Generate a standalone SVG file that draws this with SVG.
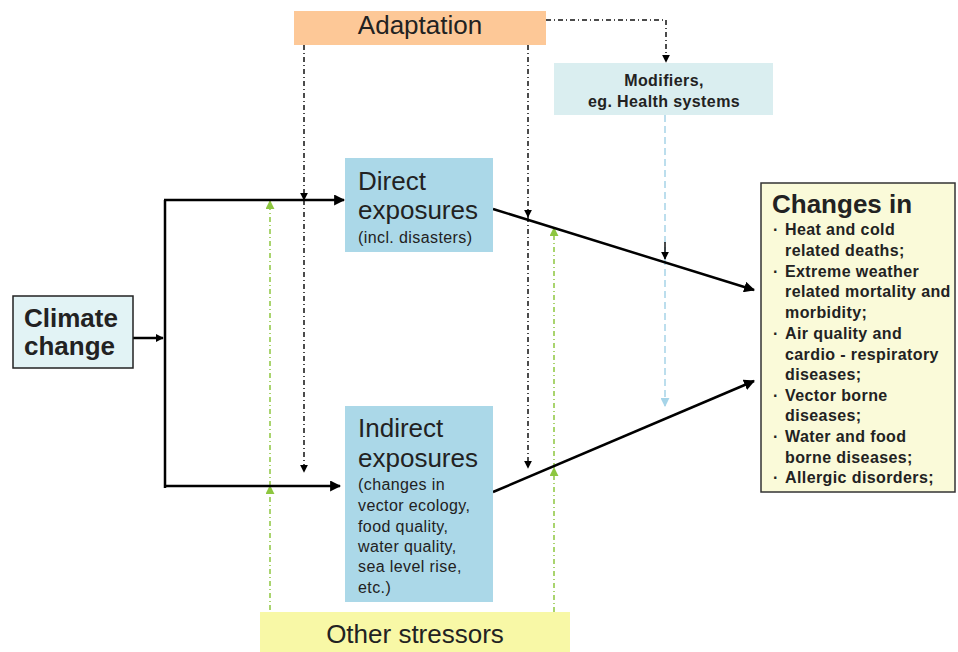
<svg xmlns="http://www.w3.org/2000/svg" width="958" height="652" viewBox="0 0 958 652">
<defs>
<marker id="ab" viewBox="0 0 10 10" refX="9" refY="5" markerWidth="8" markerHeight="8" markerUnits="userSpaceOnUse" orient="auto"><path d="M0,0 L10,5 L0,10 z" fill="#000"/></marker>
<marker id="abig" viewBox="0 0 10 10" refX="9" refY="5" markerWidth="11" markerHeight="11" markerUnits="userSpaceOnUse" orient="auto"><path d="M0,0 L10,5 L0,10 z" fill="#000"/></marker>
<marker id="ag" viewBox="0 0 10 10" refX="9" refY="5" markerWidth="9" markerHeight="9" markerUnits="userSpaceOnUse" orient="auto"><path d="M0,0 L10,5 L0,10 z" fill="#8DC63F"/></marker>
<marker id="al" viewBox="0 0 10 10" refX="9" refY="5" markerWidth="9" markerHeight="9" markerUnits="userSpaceOnUse" orient="auto"><path d="M0,0 L10,5 L0,10 z" fill="#A6D4E8"/></marker>
</defs>
<style>
text{font-family:"Liberation Sans",Arial,sans-serif;fill:#222}
.big{font-size:26px}
.sm{font-size:16px;letter-spacing:0.4px}
.b{font-weight:bold}
.solid{stroke:#000;stroke-width:2.5;fill:none}
.dd{stroke:#111;stroke-width:1.5;fill:none;stroke-dasharray:5,3,1,3}
.gd{stroke:#8DC63F;stroke-width:1.5;fill:none;stroke-dasharray:5,3,1,3}
.ld{stroke:#A6D4E8;stroke-width:1.5;fill:none;stroke-dasharray:7,4}
</style>
<g id="connectors">
<path class="dd" d="M546,20 H666 V62" marker-end="url(#ab)"/>
<path class="dd" d="M304,45 V200" marker-end="url(#ab)"/>
<path class="dd" d="M304,200 V472" marker-end="url(#ab)"/>
<path class="dd" d="M528,45 V217" marker-end="url(#ab)"/>
<path class="dd" d="M528,217 V468" marker-end="url(#ab)"/>
<path class="gd" d="M270,610 V486" marker-end="url(#ag)"/>
<path class="gd" d="M270,486 V201" marker-end="url(#ag)"/>
<path class="gd" d="M554,612 V468" marker-end="url(#ag)"/>
<path class="gd" d="M554,468 V228" marker-end="url(#ag)"/>
<path class="ld" d="M665,115 V406" marker-end="url(#al)"/>
<path d="M665,242 V259" stroke="#111" stroke-width="1.5" marker-end="url(#ab)"/>
<path class="solid" d="M133,338 H163" marker-end="url(#ab)"/>
<path class="solid" d="M165,200 V488"/>
<path class="solid" d="M164,200 H344" marker-end="url(#abig)"/>
<path class="solid" d="M164,486 H340" marker-end="url(#abig)"/>
<path class="solid" d="M493,209 L754,290" marker-end="url(#abig)"/>
<path class="solid" d="M493,492 L754,381" marker-end="url(#abig)"/>
</g>
<g id="adaptation">
<rect x="294" y="11" width="252" height="34" fill="#FDC897"/>
<text class="big" x="420" y="34" text-anchor="middle">Adaptation</text>
</g>
<g id="modifiers">
<rect x="554" y="63" width="219" height="52" fill="#DAEEF0"/>
<text class="sm b" x="664" y="86" text-anchor="middle">Modifiers,</text>
<text class="sm b" x="664" y="107" text-anchor="middle">eg. Health systems</text>
</g>
<g id="climate">
<rect x="13" y="296" width="120" height="72" fill="#E2F3F5" stroke="#222" stroke-width="1.5"/>
<text class="big b" x="24" y="327">Climate</text>
<text class="big b" x="24" y="355">change</text>
</g>
<g id="direct">
<rect x="345" y="158" width="148" height="94" fill="#ABD8E8"/>
<text class="big" x="358" y="190">Direct</text>
<text class="big" x="358" y="219">exposures</text>
<text class="sm" x="358" y="243">(incl. disasters)</text>
</g>
<g id="indirect">
<rect x="345" y="406" width="148" height="196" fill="#ABD8E8"/>
<text class="big" x="358" y="437">Indirect</text>
<text class="big" x="358" y="467">exposures</text>
<text class="sm" x="358" y="490">(changes in</text>
<text class="sm" x="358" y="511">vector ecology,</text>
<text class="sm" x="358" y="532">food quality,</text>
<text class="sm" x="358" y="552">water quality,</text>
<text class="sm" x="358" y="572">sea level rise,</text>
<text class="sm" x="358" y="593">etc.)</text>
</g>
<g id="changes">
<rect x="761" y="183" width="194" height="309" fill="#FAFAD9" stroke="#333" stroke-width="1.5"/>
<text class="big b" x="772" y="213">Changes in</text>
<g class="sm b">
<text x="773" y="235">·</text><text x="785" y="235">Heat and cold</text>
<text x="785" y="256">related deaths;</text>
<text x="773" y="277">·</text><text x="785" y="277">Extreme weather</text>
<text x="785" y="297">related mortality and</text>
<text x="785" y="318">morbidity;</text>
<text x="773" y="339">·</text><text x="785" y="339">Air quality and</text>
<text x="785" y="360">cardio - respiratory</text>
<text x="785" y="380">diseases;</text>
<text x="773" y="401">·</text><text x="785" y="401">Vector borne</text>
<text x="785" y="421">diseases;</text>
<text x="773" y="442">·</text><text x="785" y="442">Water and food</text>
<text x="785" y="463">borne diseases;</text>
<text x="773" y="483">·</text><text x="785" y="483">Allergic disorders;</text>
</g>
</g>
<g id="stressors">
<rect x="260" y="612" width="310" height="40" fill="#F8F8A6"/>
<text class="big" x="415" y="643" text-anchor="middle">Other stressors</text>
</g>
</svg>
